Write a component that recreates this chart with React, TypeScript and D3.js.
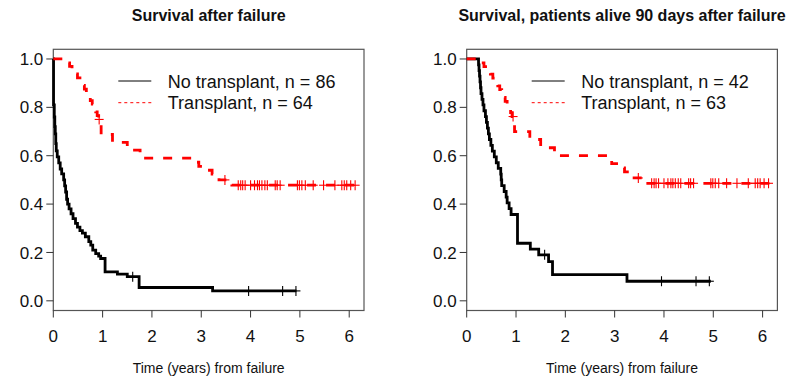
import React, { useEffect, useRef } from 'react';
import * as d3 from 'd3';

type Pt = [number, number];

// Left panel: all patients
const leftNoTx: Pt[] = [
  [0, 1], [0.005, 0.81], [0.02, 0.76], [0.03, 0.72], [0.04, 0.69], [0.05, 0.65], [0.06, 0.62],
  [0.08, 0.595], [0.11, 0.57], [0.14, 0.545], [0.17, 0.525], [0.21, 0.50], [0.23, 0.475],
  [0.25, 0.45], [0.27, 0.42], [0.29, 0.40], [0.32, 0.38], [0.36, 0.36], [0.40, 0.34],
  [0.45, 0.32], [0.49, 0.305], [0.54, 0.29], [0.59, 0.28], [0.65, 0.265], [0.72, 0.245],
  [0.76, 0.23], [0.80, 0.21], [0.86, 0.195], [0.92, 0.185], [0.96, 0.175], [1.05, 0.12],
  [1.30, 0.11], [1.50, 0.10], [1.74, 0.055], [3.23, 0.041],
];
const leftNoTxEnd = 4.93;
const leftNoTxCensor = [1.61, 3.96, 4.65, 4.92];

const leftTx: Pt[] = [
  [0, 1], [0.28, 0.984], [0.33, 0.969], [0.38, 0.953], [0.44, 0.938], [0.49, 0.922],
  [0.54, 0.906], [0.59, 0.891], [0.63, 0.875], [0.67, 0.859], [0.71, 0.844], [0.75, 0.828],
  [0.79, 0.813], [0.83, 0.797], [0.86, 0.781], [0.89, 0.766], [0.92, 0.75], [0.97, 0.688],
  [1.2, 0.655], [1.5, 0.623], [1.76, 0.59], [2.87, 0.573], [2.95, 0.556], [3.12, 0.54],
  [3.22, 0.524], [3.36, 0.50], [3.62, 0.478],
];
const leftTxEnd = 6.15;
const txCensorTail = [
  3.75, 3.80, 3.84, 3.89, 4.00, 4.08, 4.14, 4.18, 4.23, 4.29, 4.34, 4.50, 4.54, 4.60,
  4.95, 4.99, 5.04, 5.11, 5.27, 5.48, 5.71, 5.85, 5.90, 5.95, 6.03, 6.12,
];
const leftTxCensor = [0.93, 3.48, ...txCensorTail];

// Right panel: patients alive 90 days after failure
const rightNoTx: Pt[] = [
  [0, 1], [0.24, 0.976], [0.25, 0.952], [0.26, 0.929], [0.27, 0.905], [0.28, 0.881],
  [0.29, 0.857], [0.31, 0.833], [0.33, 0.81], [0.35, 0.786], [0.38, 0.762], [0.40, 0.738],
  [0.42, 0.714], [0.44, 0.69], [0.46, 0.667], [0.49, 0.643], [0.52, 0.619], [0.56, 0.595],
  [0.60, 0.571], [0.64, 0.548], [0.69, 0.524], [0.70, 0.50], [0.71, 0.476], [0.76, 0.452],
  [0.80, 0.429], [0.82, 0.405], [0.86, 0.381], [0.90, 0.357], [1.03, 0.238], [1.29, 0.214],
  [1.46, 0.190], [1.66, 0.162], [1.74, 0.108], [3.25, 0.081],
];
const rightNoTxEnd = 4.95;
const rightNoTxCensor = [1.58, 3.95, 4.65, 4.92];

const rightTx: Pt[] = [
  [0, 1], [0.30, 0.984], [0.35, 0.968], [0.42, 0.952], [0.48, 0.937], [0.53, 0.921],
  [0.58, 0.905], [0.63, 0.889], [0.67, 0.873], [0.71, 0.857], [0.75, 0.841], [0.78, 0.825],
  [0.82, 0.810], [0.86, 0.794], [0.89, 0.778], [0.92, 0.762], [0.97, 0.70], [1.28, 0.667],
  [1.5, 0.633], [1.78, 0.60], [2.88, 0.583], [2.94, 0.567], [3.12, 0.55], [3.2, 0.533],
  [3.36, 0.508], [3.62, 0.486],
];
const rightTxEnd = 6.14;
const rightTxCensor = [0.94, 3.48, ...txCensorTail];

const xTicks = [0, 1, 2, 3, 4, 5, 6];
const yTicks = [0, 0.2, 0.4, 0.6, 0.8, 1.0];

const panels = [
  {
    title: 'Survival after failure',
    left: 53.3,
    noTx: leftNoTx, noTxEnd: leftNoTxEnd, noTxCensor: leftNoTxCensor,
    tx: leftTx, txEnd: leftTxEnd, txCensor: leftTxCensor,
    legend: ['No transplant, n = 86', 'Transplant, n = 64'],
  },
  {
    title: 'Survival, patients alive 90 days after failure',
    left: 466.7,
    noTx: rightNoTx, noTxEnd: rightNoTxEnd, noTxCensor: rightNoTxCensor,
    tx: rightTx, txEnd: rightTxEnd, txCensor: rightTxCensor,
    legend: ['No transplant, n = 42', 'Transplant, n = 63'],
  },
];

const FONT = '"Liberation Sans", Arial, Helvetica, sans-serif';

const survAt = (pts: Pt[], t: number) => {
  let s = 1;
  for (const p of pts) if (p[0] <= t) s = p[1];
  return s;
};

const App = () => {
  const svgRef = useRef<SVGSVGElement>(null);

  useEffect(() => {
    const svg = d3.select(svgRef.current);
    svg.selectAll('*').remove();

    const width = 310.7;
    const top = 49.3;
    const bottom = 310.5;

    panels.forEach(p => {
      const g = svg.append('g');
      const x = d3.scaleLinear().domain([0, 6.3]).range([p.left, p.left + width]);
      const y = d3.scaleLinear().domain([-0.04, 1.04]).range([bottom, top]);
      const cx = (x(0) + x(6.3)) / 2;

      // box
      g.append('rect')
        .attr('x', x(0)).attr('y', top)
        .attr('width', width).attr('height', bottom - top)
        .attr('fill', 'none').attr('stroke', '#555').attr('stroke-width', 1.2);

      // x axis
      g.selectAll('.xt').data(xTicks).enter().append('line')
        .attr('x1', d => x(d)).attr('x2', d => x(d))
        .attr('y1', bottom).attr('y2', bottom + 7)
        .attr('stroke', '#333').attr('stroke-width', 1);
      g.selectAll('.xl').data(xTicks).enter().append('text')
        .attr('x', d => x(d)).attr('y', bottom + 31)
        .attr('text-anchor', 'middle')
        .style('font-family', FONT).style('font-size', '17px').attr('fill', '#111')
        .text(d => d);

      // y axis
      g.selectAll('.yt').data(yTicks).enter().append('line')
        .attr('x1', x(0) - 7).attr('x2', x(0))
        .attr('y1', d => y(d)).attr('y2', d => y(d))
        .attr('stroke', '#333').attr('stroke-width', 1);
      g.selectAll('.yl').data(yTicks).enter().append('text')
        .attr('x', x(0) - 10).attr('y', d => y(d))
        .attr('dy', '0.36em')
        .attr('text-anchor', 'end')
        .style('font-family', FONT).style('font-size', '17px').attr('fill', '#111')
        .text(d => d.toFixed(1));

      // titles
      g.append('text')
        .attr('x', cx).attr('y', 21).attr('text-anchor', 'middle')
        .style('font-family', FONT).style('font-size', '16px').style('font-weight', 'bold')
        .attr('fill', '#111')
        .text(p.title);
      g.append('text')
        .attr('x', cx).attr('y', 373).attr('text-anchor', 'middle')
        .style('font-family', FONT).style('font-size', '14px').attr('fill', '#111')
        .text('Time (years) from failure');

      const line = d3.line<Pt>()
        .x(d => x(d[0])).y(d => y(d[1]))
        .curve(d3.curveStepAfter);

      const curves = [
        { pts: p.noTx, end: p.noTxEnd, censor: p.noTxCensor, color: '#000', dash: null },
        { pts: p.tx, end: p.txEnd, censor: p.txCensor, color: '#ff0000', dash: '9,10' },
      ];

      curves.forEach(c => {
        const pts: Pt[] = [...c.pts, [c.end, c.pts[c.pts.length - 1][1]]];
        g.append('path')
          .attr('d', line(pts))
          .attr('fill', 'none')
          .attr('stroke', c.color)
          .attr('stroke-width', 2.8)
          .attr('stroke-dasharray', c.dash);

        const marks = g.append('g')
          .attr('stroke', c.color).attr('stroke-width', 1.1);
        c.censor.forEach(t => {
          const mx = x(t);
          const my = y(survAt(c.pts, t));
          marks.append('line').attr('x1', mx - 4.5).attr('x2', mx + 4.5).attr('y1', my).attr('y2', my);
          marks.append('line').attr('x1', mx).attr('x2', mx).attr('y1', my - 5).attr('y2', my + 5);
        });
      });

      // legend
      const lx = p.left + 65;
      const legendRows = [
        { y: 81, color: '#000', dash: null },
        { y: 102.7, color: '#ff0000', dash: '3,3' },
      ];
      legendRows.forEach((r, i) => {
        g.append('line')
          .attr('x1', lx).attr('x2', lx + 33)
          .attr('y1', r.y).attr('y2', r.y)
          .attr('stroke', r.color).attr('stroke-width', 1)
          .attr('stroke-dasharray', r.dash);
        g.append('text')
          .attr('x', p.left + 114.5).attr('y', r.y + 6.5)
          .style('font-family', FONT).style('font-size', '18px').attr('fill', '#111')
          .text(p.legend[i]);
      });
    });
  }, []);

  return (
    <svg
      ref={svgRef}
      width={789}
      height={384}
      style={{ position: 'absolute', left: 0, top: 0, background: '#fff' }}
    />
  );
};

export default App;
